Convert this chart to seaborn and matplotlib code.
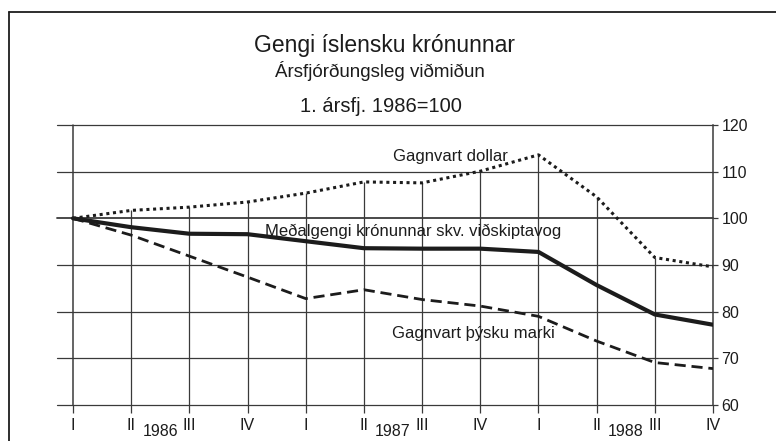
import matplotlib
matplotlib.use("Agg")
import matplotlib.pyplot as plt
from matplotlib.lines import Line2D
import seaborn as sns
import pandas as pd

# ---- data ----
quarters = ["I", "II", "III", "IV", "I", "II", "III", "IV", "I", "II", "III", "IV"]
years = ["1986", "1987", "1988"]
dollar = [100.0, 101.7, 102.4, 103.5, 105.4, 107.8, 107.6, 110.1, 113.6, 104.6, 91.6, 89.6]
medalgengi = [100.0, 98.1, 96.7, 96.6, 95.1, 93.6, 93.5, 93.5, 92.8, 85.7, 79.4, 77.2]
mark = [100.0, 96.4, 91.9, 87.4, 82.8, 84.7, 82.6, 81.2, 79.0, 73.7, 69.1, 67.8]
yticks = [60, 70, 80, 90, 100, 110, 120]

title = "Gengi íslensku krónunnar"
subtitle = "Ársfjórðungsleg viðmiðun"
base_txt = "1. ársfj. 1986=100"
lbl_dollar = "Gagnvart dollar"
lbl_med = "Meðalgengi krónunnar skv. viðskiptavog"
lbl_mark = "Gagnvart þýsku marki"

sns.set_theme(style="white")
plt.rcParams["font.family"] = ["Liberation Sans", "DejaVu Sans"]

INK = "#1c1c1c"
GRID = "#3a3a3a"

fig = plt.figure(figsize=(7.76, 4.41), dpi=100)
ax = fig.add_axes([57 / 776, 1 - 405 / 441, (713 - 57) / 776, (405 - 125) / 441])

x = list(range(len(quarters)))
df = pd.DataFrame({"x": x, "dollar": dollar, "med": medalgengi, "mark": mark})

# grid: horizontal lines
for yv in yticks:
    ax.axhline(yv, color=GRID, lw=1.3 if yv == 100 else 0.9, zorder=1, clip_on=False)
# vertical lines: full at ends, up to the dollar line elsewhere
ax.vlines(x[1:-1], 60, dollar[1:-1], color=GRID, lw=0.9, zorder=1)
ax.axvline(x[0], color=GRID, lw=1.1, zorder=1, clip_on=False)

sns.lineplot(data=df, x="x", y="dollar", ax=ax, color=INK, lw=2.2,
             linestyle=(0, (1, 1.2)), zorder=3)
sns.lineplot(data=df, x="x", y="med", ax=ax, color=INK, lw=3.0, zorder=3)
sns.lineplot(data=df, x="x", y="mark", ax=ax, color=INK, lw=2.0,
             linestyle=(0, (4.0, 2.1)), zorder=3)
for ln in ax.get_lines():
    ln.set_solid_joinstyle("round")
    ln.set_dash_capstyle("butt")

ax.set_xlim(-16 / 58.18, len(quarters) - 1)
ax.set_ylim(60, 120)

for s in ["left", "top", "bottom"]:
    ax.spines[s].set_visible(False)
ax.spines["right"].set_visible(True)
ax.spines["right"].set_color(GRID)
ax.spines["right"].set_linewidth(1.1)

ax.set_xticks(x)
ax.set_xticklabels(quarters)
ax.set_yticks(yticks)
ax.yaxis.tick_right()
ax.tick_params(axis="x", bottom=True, direction="out", length=5.8, width=0.9,
               color=GRID, pad=3.4, labelsize=11.5, labelcolor=INK)
ax.tick_params(axis="y", right=True, left=False, direction="out", length=3.6,
               width=0.9, color=GRID, pad=2.5, labelsize=11.5, labelcolor=INK)
ax.set_xlabel("")
ax.set_ylabel("")
ax.grid(False)

# year labels
for i, yr in enumerate(years):
    ax.text(1.5 + 4 * i, -19 / 280, yr, transform=ax.get_xaxis_transform(),
            ha="center", va="top", fontsize=11.5, color=INK)

# inline labels
ax.text(5.5, 112.3, lbl_dollar, ha="left", va="baseline", fontsize=12, color=INK)
ax.text(3.3, 96.3, lbl_med, ha="left", va="baseline", fontsize=12, color=INK)
ax.text(5.49, 74.3, lbl_mark, ha="left", va="baseline", fontsize=12, color=INK)

# titles
fig.text(385 / 776, 1 - 52 / 441, title, ha="center", va="baseline", fontsize=16.5, color=INK)
fig.text(380 / 776, 1 - 77 / 441, subtitle, ha="center", va="baseline", fontsize=13.5, color=INK)
fig.text(381 / 776, 1 - 112 / 441, base_txt, ha="center", va="baseline", fontsize=14.5, color=INK)

# outer frame (left and top edges only)
fig.add_artist(Line2D([9 / 776, 9 / 776], [0, 1 - 12 / 441], transform=fig.transFigure,
                      color=INK, lw=1.3))
fig.add_artist(Line2D([9 / 776, 1.01], [1 - 12 / 441, 1 - 12 / 441], transform=fig.transFigure,
                      color=INK, lw=1.3))

fig.savefig("out.png", dpi=100)
